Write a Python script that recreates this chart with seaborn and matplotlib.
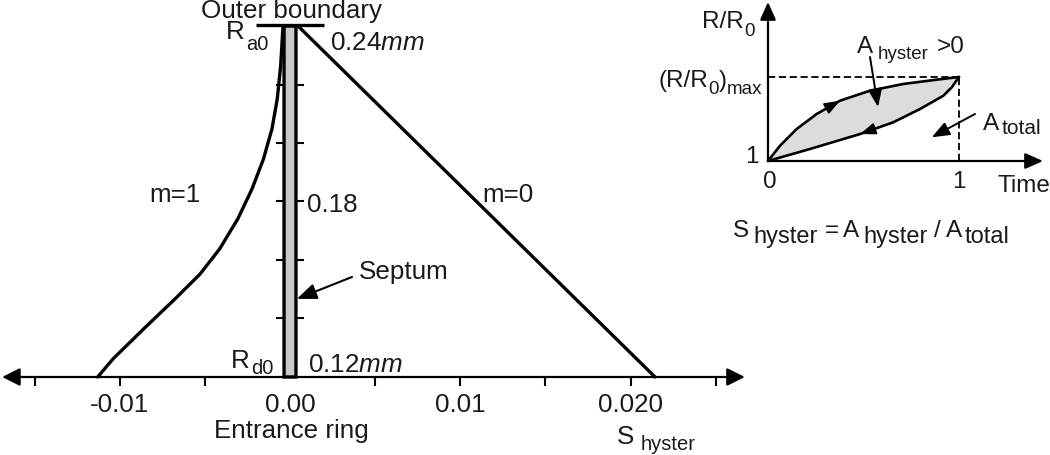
import matplotlib.pyplot as plt
import numpy as np
import pandas as pd
import seaborn as sns

# ---- main panel: S_hyster (x) against radius in mm (y) ----
m1_s = [-0.00041, -0.00055, -0.00075, -0.00106, -0.00156, -0.00223, -0.00307,
        -0.00413, -0.00528, -0.00675, -0.00860, -0.01039, -0.01129]
m1_r = [0.2400, 0.2263, 0.2150, 0.2048, 0.1945, 0.1843, 0.1740,
        0.1638, 0.1552, 0.1467, 0.1364, 0.1262, 0.1200]
m0_s = [0.00047, 0.02143]
m0_r = [0.240, 0.120]

r_entrance = 0.12
r_outer = 0.24
septum_width = 0.0007
boundary_half = 0.002

s_major = [-0.01, 0.00, 0.01, 0.02]
s_major_labels = ["-0.01", "0.00", "0.01", "0.020"]
s_minor = [-0.015, -0.005, 0.005, 0.015, 0.025]
r_ticks = [0.14, 0.16, 0.18, 0.20, 0.22]
r_tick_labels = ["", "", "0.18", "", ""]

# ---- inset: R/R0 against normalised time ----
up_t = [0.0, 0.063, 0.150, 0.255, 0.377, 0.534, 0.708, 0.883, 1.0]
up_y = [1.0, 1.182, 1.381, 1.560, 1.718, 1.837, 1.917, 1.968, 2.0]
lo_t = [0.0, 0.220, 0.482, 0.656, 0.796, 0.918, 0.962, 1.0]
lo_y = [1.0, 1.143, 1.321, 1.461, 1.619, 1.777, 1.877, 2.0]
t_end = 1.0
ratio_max = 2.0

sns.set_theme(style="ticks")
plt.rcParams["font.family"] = ["Liberation Sans", "DejaVu Sans"]
plt.rcParams["mathtext.fontset"] = "custom"
plt.rcParams["mathtext.rm"] = "Liberation Sans"
plt.rcParams["mathtext.it"] = "Liberation Sans:italic"
plt.rcParams["mathtext.default"] = "rm"
plt.rcParams["text.color"] = "#1a1a1a"

FS = 18.7
SUB = 14.5
IFS = 17.5
ISUB = 13.5
INK = "black"


def rich(axx, x, y, parts, fs, sub_fs, drop=4.0):
    """Write text with big, low subscripts: parts is a list of (text, is_sub, gap)."""
    first = axx.text(x, y, parts[0][0], fontsize=fs, va="baseline", ha="left")
    prev = first
    for txt, is_sub, g in parts[1:]:
        prev = axx.annotate(txt, xy=(1, y), xycoords=(prev, "data"),
                            xytext=(g, -drop if is_sub else 0),
                            textcoords="offset points", va="baseline", ha="left",
                            fontsize=sub_fs if is_sub else fs)
    return first


fig = plt.figure(figsize=(10.5, 4.56), dpi=100)
fig.patch.set_facecolor("white")
ax = fig.add_axes([0, 0, 1, 1])
ax.set_facecolor("none")
ax.set_xlim(-0.017026, 0.044619)
ax.set_ylim(0.093333, 0.249231)

# curves
sns.lineplot(x=m1_s, y=m1_r, ax=ax, color=INK, lw=2.4, sort=False, estimator=None)
sns.lineplot(x=m0_s, y=m0_r, ax=ax, color=INK, lw=2.4, sort=False, estimator=None)

# septum
bars = ax.bar(0, r_outer - r_entrance, bottom=r_entrance, width=septum_width,
              color="#c8c8c8", edgecolor=INK, linewidth=2.4, zorder=3)
for p in bars.patches:
    p.set_snap(False)
ax.hlines(r_outer + 0.0004, -boundary_half, boundary_half, color=INK, lw=2.4, zorder=4)

# horizontal axis with arrows at both ends
ax.annotate("", xy=(0.0267, r_entrance), xytext=(-0.0169, r_entrance),
            arrowprops=dict(arrowstyle="<|-|>,head_length=0.9,head_width=0.45",
                            mutation_scale=12, lw=1.6, color=INK,
                            shrinkA=0, shrinkB=0))

for s in ax.spines.values():
    s.set_visible(False)
ax.spines["bottom"].set_position(("data", r_entrance))
ax.spines["right"].set_position(("data", 0))

ax.set_xticks(s_major)
ax.set_xticklabels(s_major_labels, fontsize=FS)
ax.set_xticks(s_minor, minor=True)
ax.tick_params(axis="x", which="both", direction="out", length=6.5, width=1.5,
               color=INK, labelcolor="#1a1a1a", bottom=True, top=False, pad=4)
ax.xaxis.get_major_ticks()[1].tick1line.set_visible(False)

ax.yaxis.set_ticks_position("right")
ax.set_yticks(r_ticks)
ax.set_yticklabels(r_tick_labels, fontsize=FS)
ax.tick_params(axis="y", direction="inout", length=20, width=1.5, color=INK,
               labelcolor="#1a1a1a", right=True, left=False,
               labelright=True, labelleft=False, pad=2.0)
ax.set_xlabel("")
ax.set_ylabel("")

# labels of the main panel
ax.text(0.0001, 0.2432, "Outer boundary", ha="center", va="baseline", fontsize=FS)
rich(ax, -0.00375, 0.2358, [("R", 0, 0), ("a0", 1, 1.0)], FS, SUB, drop=8)
ax.text(0.00235, 0.2323, r"0.24$\mathit{mm}$", ha="left", va="baseline", fontsize=FS)
ax.text(-0.00675, 0.180, "m=1", ha="center", va="baseline", fontsize=FS)
ax.text(0.0128, 0.1803, "m=0", ha="center", va="baseline", fontsize=FS)
ax.text(0.00405, 0.1537, "Septum", ha="left", va="baseline", fontsize=FS)
ax.annotate("", xy=(0.0004, 0.1467), xytext=(0.00364, 0.1542),
            arrowprops=dict(arrowstyle="-|>,head_length=1.0,head_width=0.4",
                            mutation_scale=12, lw=1.5, color=INK,
                            shrinkA=0, shrinkB=0), zorder=5)
rich(ax, -0.0035, 0.1233, [("R", 0, 0), ("d0", 1, 1.5)], FS, SUB, drop=4)
ax.text(0.00106, 0.1219, r"0.12$\mathit{mm}$", ha="left", va="baseline", fontsize=FS)
ax.text(0.0001, 0.0994, "Entrance ring", ha="center", va="baseline", fontsize=FS)
rich(ax, 0.01918, 0.0974, [("S", 0, 0), ("hyster", 1, 5)], FS, SUB, drop=4.5)

# ---- inset ----
ins = fig.add_axes([700 / 1050, 196 / 456, 350 / 1050, 260 / 456])
ins.set_xlim(-0.35602, 1.47644)
ins.set_ylim(-0.16667, 2.92857)
ins.axis("off")
ins.patch.set_visible(False)

ins.fill(up_t + lo_t[::-1], up_y + lo_y[::-1], color="#dcdcdc", lw=0)
sns.lineplot(x=up_t, y=up_y, ax=ins, color=INK, lw=1.9, sort=False, estimator=None)
sns.lineplot(x=lo_t, y=lo_y, ax=ins, color=INK, lw=1.9, sort=False, estimator=None)

dash = (0, (4, 2))
ins.plot([0, t_end], [ratio_max, ratio_max], color=INK, lw=1.3, ls=dash)
ins.plot([t_end, t_end], [1, ratio_max], color=INK, lw=1.3, ls=dash)

axis_arrow = dict(arrowstyle="-|>,head_length=0.9,head_width=0.4",
                  mutation_scale=12, lw=1.6, color=INK, shrinkA=0, shrinkB=0)
ins.annotate("", xy=(0, 2.893), xytext=(0, 1), arrowprops=axis_arrow)
ins.annotate("", xy=(1.4398, 1), xytext=(0, 1), arrowprops=axis_arrow)

# direction marks on the loop
small_head = dict(arrowstyle="-|>,head_length=0.8,head_width=0.3",
                  mutation_scale=12, lw=1.2, color=INK, shrinkA=0, shrinkB=0)
ins.annotate("", xy=(up_t[4], up_y[4]), xytext=(up_t[3], up_y[3]), arrowprops=small_head)
ins.annotate("", xy=(lo_t[2], lo_y[2]), xytext=(lo_t[3], lo_y[3]), arrowprops=small_head)

pointer = dict(arrowstyle="-|>,head_length=0.9,head_width=0.35",
               mutation_scale=12, lw=1.4, color=INK, shrinkA=0, shrinkB=0)
ins.annotate("", xy=(0.576, 1.643), xytext=(0.534, 2.238), arrowprops=pointer)
ins.annotate("", xy=(0.857, 1.282), xytext=(1.084, 1.56), arrowprops=pointer)

rich(ins, -0.346, 2.595, [("R/R", 0, 0), ("0", 1, 0.5)], IFS, ISUB, drop=6)
rich(ins, -0.575, 1.893, [("(R/R", 0, 0), ("0", 1, 0), (")", 0, 0), ("max", 1, 0)],
     IFS, ISUB, drop=5)
ins.text(-0.05, 0.988, "1", ha="right", va="baseline", fontsize=IFS)
ins.text(0.0105, 0.69, "0", ha="center", va="baseline", fontsize=IFS)
ins.text(t_end, 0.69, "1", ha="center", va="baseline", fontsize=IFS)
ins.text(1.204, 0.646, "Time", ha="left", va="baseline", fontsize=IFS)
rich(ins, 0.466, 2.294, [("A", 0, 0), ("hyster", 1, 3.5), (">0", 0, 6)], IFS, ISUB, drop=4)
rich(ins, 1.126, 1.381, [("A", 0, 0), ("total", 1, 1.5)], IFS, 15, drop=3)
rich(ins, -0.183, 0.111,
     [("S", 0, 0), ("hyster", 1, 3), ("=", 0, 5), ("A", 0, 3), ("hyster", 1, 3),
      ("/", 0, 4.5), ("A", 0, 4), ("total", 1, 2)], IFS, 17, drop=4.5)

fig.savefig("out.png", dpi=100, facecolor="white")
